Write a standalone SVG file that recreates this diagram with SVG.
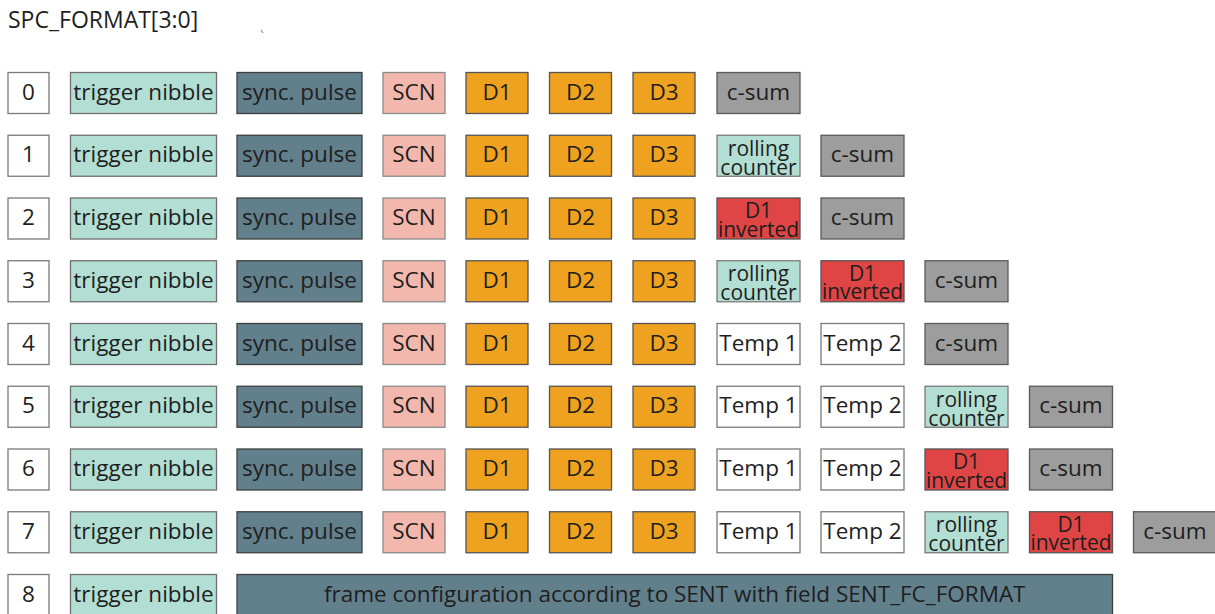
<svg xmlns="http://www.w3.org/2000/svg" width="1215" height="614" viewBox="0 0 1215 614">
  <style>
    text { font-family: "Open Sans", "Noto Sans", sans-serif; font-size: 22.5px; fill: #1e1e1e; text-anchor: middle; }
    .title { text-anchor: start; font-size: 23px; }
    .two { font-size: 21px; }
    rect { stroke-width: 1.3; }
    .num { fill: #ffffff; stroke: #7a7a7a; }
    .trig { fill: #b3ded4; stroke: #6f6f6f; }
    .sync { fill: #627f8c; stroke: #3f3f3f; }
    .scn { fill: #f3b8ad; stroke: #8a8a8a; }
    .data { fill: #eea21f; stroke: #555555; }
    .csum { fill: #9d9d9d; stroke: #5a5a5a; }
    .roll { fill: #b3ded4; stroke: #7a7a7a; }
    .inv { fill: #e04545; stroke: #555555; }
    .temp { fill: #ffffff; stroke: #7a7a7a; }
  </style>

  <text class="title" x="8" y="28">SPC_FORMAT[3:0]</text>
  <line x1="261" y1="30" x2="263" y2="33" stroke="#777" stroke-width="1"/>

  <!-- row 0 -->
  <g id="row0" transform="translate(0,72.5)">
    <g id="r0-n"><rect class="num" x="8" y="0" width="41" height="41"/><text x="28.5" y="27">0</text></g>
    <g id="r0-trig"><rect class="trig" x="70.5" y="0" width="146" height="41"/><text x="143.5" y="27">trigger nibble</text></g>
    <g id="r0-sync"><rect class="sync" x="237" y="0" width="125" height="41"/><text x="299.5" y="27">sync. pulse</text></g>
    <g id="r0-scn"><rect class="scn" x="383" y="0" width="62" height="41"/><text x="414" y="27">SCN</text></g>
    <g id="r0-d1"><rect class="data" x="466" y="0" width="62" height="41"/><text x="497" y="27">D1</text></g>
    <g id="r0-d2"><rect class="data" x="549.5" y="0" width="62" height="41"/><text x="580.5" y="27">D2</text></g>
    <g id="r0-d3"><rect class="data" x="633" y="0" width="62" height="41"/><text x="664" y="27">D3</text></g>
    <g id="r0-csum"><rect class="csum" x="717" y="0" width="83" height="41"/><text x="758.5" y="27">c-sum</text></g>
  </g>

  <!-- row 1 -->
  <g id="row1" transform="translate(0,135.25)">
    <g id="r1-n"><rect class="num" x="8" y="0" width="41" height="41"/><text x="28.5" y="27">1</text></g>
    <g id="r1-trig"><rect class="trig" x="70.5" y="0" width="146" height="41"/><text x="143.5" y="27">trigger nibble</text></g>
    <g id="r1-sync"><rect class="sync" x="237" y="0" width="125" height="41"/><text x="299.5" y="27">sync. pulse</text></g>
    <g id="r1-scn"><rect class="scn" x="383" y="0" width="62" height="41"/><text x="414" y="27">SCN</text></g>
    <g id="r1-d1"><rect class="data" x="466" y="0" width="62" height="41"/><text x="497" y="27">D1</text></g>
    <g id="r1-d2"><rect class="data" x="549.5" y="0" width="62" height="41"/><text x="580.5" y="27">D2</text></g>
    <g id="r1-d3"><rect class="data" x="633" y="0" width="62" height="41"/><text x="664" y="27">D3</text></g>
    <g id="r1-roll"><rect class="roll" x="717" y="0" width="83" height="41"/><text class="two"><tspan x="758.5" y="20.5">rolling</tspan><tspan x="758.5" y="39.5">counter</tspan></text></g>
    <g id="r1-csum"><rect class="csum" x="821" y="0" width="83" height="41"/><text x="862.5" y="27">c-sum</text></g>
  </g>

  <!-- row 2 -->
  <g id="row2" transform="translate(0,198)">
    <g id="r2-n"><rect class="num" x="8" y="0" width="41" height="41"/><text x="28.5" y="27">2</text></g>
    <g id="r2-trig"><rect class="trig" x="70.5" y="0" width="146" height="41"/><text x="143.5" y="27">trigger nibble</text></g>
    <g id="r2-sync"><rect class="sync" x="237" y="0" width="125" height="41"/><text x="299.5" y="27">sync. pulse</text></g>
    <g id="r2-scn"><rect class="scn" x="383" y="0" width="62" height="41"/><text x="414" y="27">SCN</text></g>
    <g id="r2-d1"><rect class="data" x="466" y="0" width="62" height="41"/><text x="497" y="27">D1</text></g>
    <g id="r2-d2"><rect class="data" x="549.5" y="0" width="62" height="41"/><text x="580.5" y="27">D2</text></g>
    <g id="r2-d3"><rect class="data" x="633" y="0" width="62" height="41"/><text x="664" y="27">D3</text></g>
    <g id="r2-inv"><rect class="inv" x="717" y="0" width="83" height="41"/><text class="two"><tspan x="758.5" y="20">D1</tspan><tspan x="758.5" y="38.5">inverted</tspan></text></g>
    <g id="r2-csum"><rect class="csum" x="821" y="0" width="83" height="41"/><text x="862.5" y="27">c-sum</text></g>
  </g>

  <!-- row 3 -->
  <g id="row3" transform="translate(0,260.75)">
    <g id="r3-n"><rect class="num" x="8" y="0" width="41" height="41"/><text x="28.5" y="27">3</text></g>
    <g id="r3-trig"><rect class="trig" x="70.5" y="0" width="146" height="41"/><text x="143.5" y="27">trigger nibble</text></g>
    <g id="r3-sync"><rect class="sync" x="237" y="0" width="125" height="41"/><text x="299.5" y="27">sync. pulse</text></g>
    <g id="r3-scn"><rect class="scn" x="383" y="0" width="62" height="41"/><text x="414" y="27">SCN</text></g>
    <g id="r3-d1"><rect class="data" x="466" y="0" width="62" height="41"/><text x="497" y="27">D1</text></g>
    <g id="r3-d2"><rect class="data" x="549.5" y="0" width="62" height="41"/><text x="580.5" y="27">D2</text></g>
    <g id="r3-d3"><rect class="data" x="633" y="0" width="62" height="41"/><text x="664" y="27">D3</text></g>
    <g id="r3-roll"><rect class="roll" x="717" y="0" width="83" height="41"/><text class="two"><tspan x="758.5" y="20.5">rolling</tspan><tspan x="758.5" y="39.5">counter</tspan></text></g>
    <g id="r3-inv"><rect class="inv" x="821" y="0" width="83" height="41"/><text class="two"><tspan x="862.5" y="20">D1</tspan><tspan x="862.5" y="38.5">inverted</tspan></text></g>
    <g id="r3-csum"><rect class="csum" x="925" y="0" width="83" height="41"/><text x="966.5" y="27">c-sum</text></g>
  </g>

  <!-- row 4 -->
  <g id="row4" transform="translate(0,323.5)">
    <g id="r4-n"><rect class="num" x="8" y="0" width="41" height="41"/><text x="28.5" y="27">4</text></g>
    <g id="r4-trig"><rect class="trig" x="70.5" y="0" width="146" height="41"/><text x="143.5" y="27">trigger nibble</text></g>
    <g id="r4-sync"><rect class="sync" x="237" y="0" width="125" height="41"/><text x="299.5" y="27">sync. pulse</text></g>
    <g id="r4-scn"><rect class="scn" x="383" y="0" width="62" height="41"/><text x="414" y="27">SCN</text></g>
    <g id="r4-d1"><rect class="data" x="466" y="0" width="62" height="41"/><text x="497" y="27">D1</text></g>
    <g id="r4-d2"><rect class="data" x="549.5" y="0" width="62" height="41"/><text x="580.5" y="27">D2</text></g>
    <g id="r4-d3"><rect class="data" x="633" y="0" width="62" height="41"/><text x="664" y="27">D3</text></g>
    <g id="r4-t1"><rect class="temp" x="717" y="0" width="83" height="41"/><text x="758.5" y="27">Temp 1</text></g>
    <g id="r4-t2"><rect class="temp" x="821" y="0" width="83" height="41"/><text x="862.5" y="27">Temp 2</text></g>
    <g id="r4-csum"><rect class="csum" x="925" y="0" width="83" height="41"/><text x="966.5" y="27">c-sum</text></g>
  </g>

  <!-- row 5 -->
  <g id="row5" transform="translate(0,386.25)">
    <g id="r5-n"><rect class="num" x="8" y="0" width="41" height="41"/><text x="28.5" y="27">5</text></g>
    <g id="r5-trig"><rect class="trig" x="70.5" y="0" width="146" height="41"/><text x="143.5" y="27">trigger nibble</text></g>
    <g id="r5-sync"><rect class="sync" x="237" y="0" width="125" height="41"/><text x="299.5" y="27">sync. pulse</text></g>
    <g id="r5-scn"><rect class="scn" x="383" y="0" width="62" height="41"/><text x="414" y="27">SCN</text></g>
    <g id="r5-d1"><rect class="data" x="466" y="0" width="62" height="41"/><text x="497" y="27">D1</text></g>
    <g id="r5-d2"><rect class="data" x="549.5" y="0" width="62" height="41"/><text x="580.5" y="27">D2</text></g>
    <g id="r5-d3"><rect class="data" x="633" y="0" width="62" height="41"/><text x="664" y="27">D3</text></g>
    <g id="r5-t1"><rect class="temp" x="717" y="0" width="83" height="41"/><text x="758.5" y="27">Temp 1</text></g>
    <g id="r5-t2"><rect class="temp" x="821" y="0" width="83" height="41"/><text x="862.5" y="27">Temp 2</text></g>
    <g id="r5-roll"><rect class="roll" x="925" y="0" width="83" height="41"/><text class="two"><tspan x="966.5" y="20.5">rolling</tspan><tspan x="966.5" y="39.5">counter</tspan></text></g>
    <g id="r5-csum"><rect class="csum" x="1029.5" y="0" width="83" height="41"/><text x="1071" y="27">c-sum</text></g>
  </g>

  <!-- row 6 -->
  <g id="row6" transform="translate(0,449)">
    <g id="r6-n"><rect class="num" x="8" y="0" width="41" height="41"/><text x="28.5" y="27">6</text></g>
    <g id="r6-trig"><rect class="trig" x="70.5" y="0" width="146" height="41"/><text x="143.5" y="27">trigger nibble</text></g>
    <g id="r6-sync"><rect class="sync" x="237" y="0" width="125" height="41"/><text x="299.5" y="27">sync. pulse</text></g>
    <g id="r6-scn"><rect class="scn" x="383" y="0" width="62" height="41"/><text x="414" y="27">SCN</text></g>
    <g id="r6-d1"><rect class="data" x="466" y="0" width="62" height="41"/><text x="497" y="27">D1</text></g>
    <g id="r6-d2"><rect class="data" x="549.5" y="0" width="62" height="41"/><text x="580.5" y="27">D2</text></g>
    <g id="r6-d3"><rect class="data" x="633" y="0" width="62" height="41"/><text x="664" y="27">D3</text></g>
    <g id="r6-t1"><rect class="temp" x="717" y="0" width="83" height="41"/><text x="758.5" y="27">Temp 1</text></g>
    <g id="r6-t2"><rect class="temp" x="821" y="0" width="83" height="41"/><text x="862.5" y="27">Temp 2</text></g>
    <g id="r6-inv"><rect class="inv" x="925" y="0" width="83" height="41"/><text class="two"><tspan x="966.5" y="20">D1</tspan><tspan x="966.5" y="38.5">inverted</tspan></text></g>
    <g id="r6-csum"><rect class="csum" x="1029.5" y="0" width="83" height="41"/><text x="1071" y="27">c-sum</text></g>
  </g>

  <!-- row 7 -->
  <g id="row7" transform="translate(0,511.75)">
    <g id="r7-n"><rect class="num" x="8" y="0" width="41" height="41"/><text x="28.5" y="27">7</text></g>
    <g id="r7-trig"><rect class="trig" x="70.5" y="0" width="146" height="41"/><text x="143.5" y="27">trigger nibble</text></g>
    <g id="r7-sync"><rect class="sync" x="237" y="0" width="125" height="41"/><text x="299.5" y="27">sync. pulse</text></g>
    <g id="r7-scn"><rect class="scn" x="383" y="0" width="62" height="41"/><text x="414" y="27">SCN</text></g>
    <g id="r7-d1"><rect class="data" x="466" y="0" width="62" height="41"/><text x="497" y="27">D1</text></g>
    <g id="r7-d2"><rect class="data" x="549.5" y="0" width="62" height="41"/><text x="580.5" y="27">D2</text></g>
    <g id="r7-d3"><rect class="data" x="633" y="0" width="62" height="41"/><text x="664" y="27">D3</text></g>
    <g id="r7-t1"><rect class="temp" x="717" y="0" width="83" height="41"/><text x="758.5" y="27">Temp 1</text></g>
    <g id="r7-t2"><rect class="temp" x="821" y="0" width="83" height="41"/><text x="862.5" y="27">Temp 2</text></g>
    <g id="r7-roll"><rect class="roll" x="925" y="0" width="83" height="41"/><text class="two"><tspan x="966.5" y="20.5">rolling</tspan><tspan x="966.5" y="39.5">counter</tspan></text></g>
    <g id="r7-inv"><rect class="inv" x="1029.5" y="0" width="83" height="41"/><text class="two"><tspan x="1071" y="20">D1</tspan><tspan x="1071" y="38.5">inverted</tspan></text></g>
    <g id="r7-csum"><rect class="csum" x="1133.5" y="0" width="83" height="41"/><text x="1175" y="27">c-sum</text></g>
  </g>

  <!-- row 8: free frame layout -->
  <g id="row8" transform="translate(0,574.5)">
    <g id="r8-n"><rect class="num" x="8" y="0" width="41" height="41"/><text x="28.5" y="27">8</text></g>
    <g id="r8-trig"><rect class="trig" x="70.5" y="0" width="146" height="41"/><text x="143.5" y="27">trigger nibble</text></g>
    <g id="r8-frame"><rect class="sync" x="237" y="0" width="875.5" height="45"/><text x="674.75" y="27">frame configuration according to SENT with field SENT_FC_FORMAT</text></g>
  </g>

  <g id="connectors"/>
</svg>
